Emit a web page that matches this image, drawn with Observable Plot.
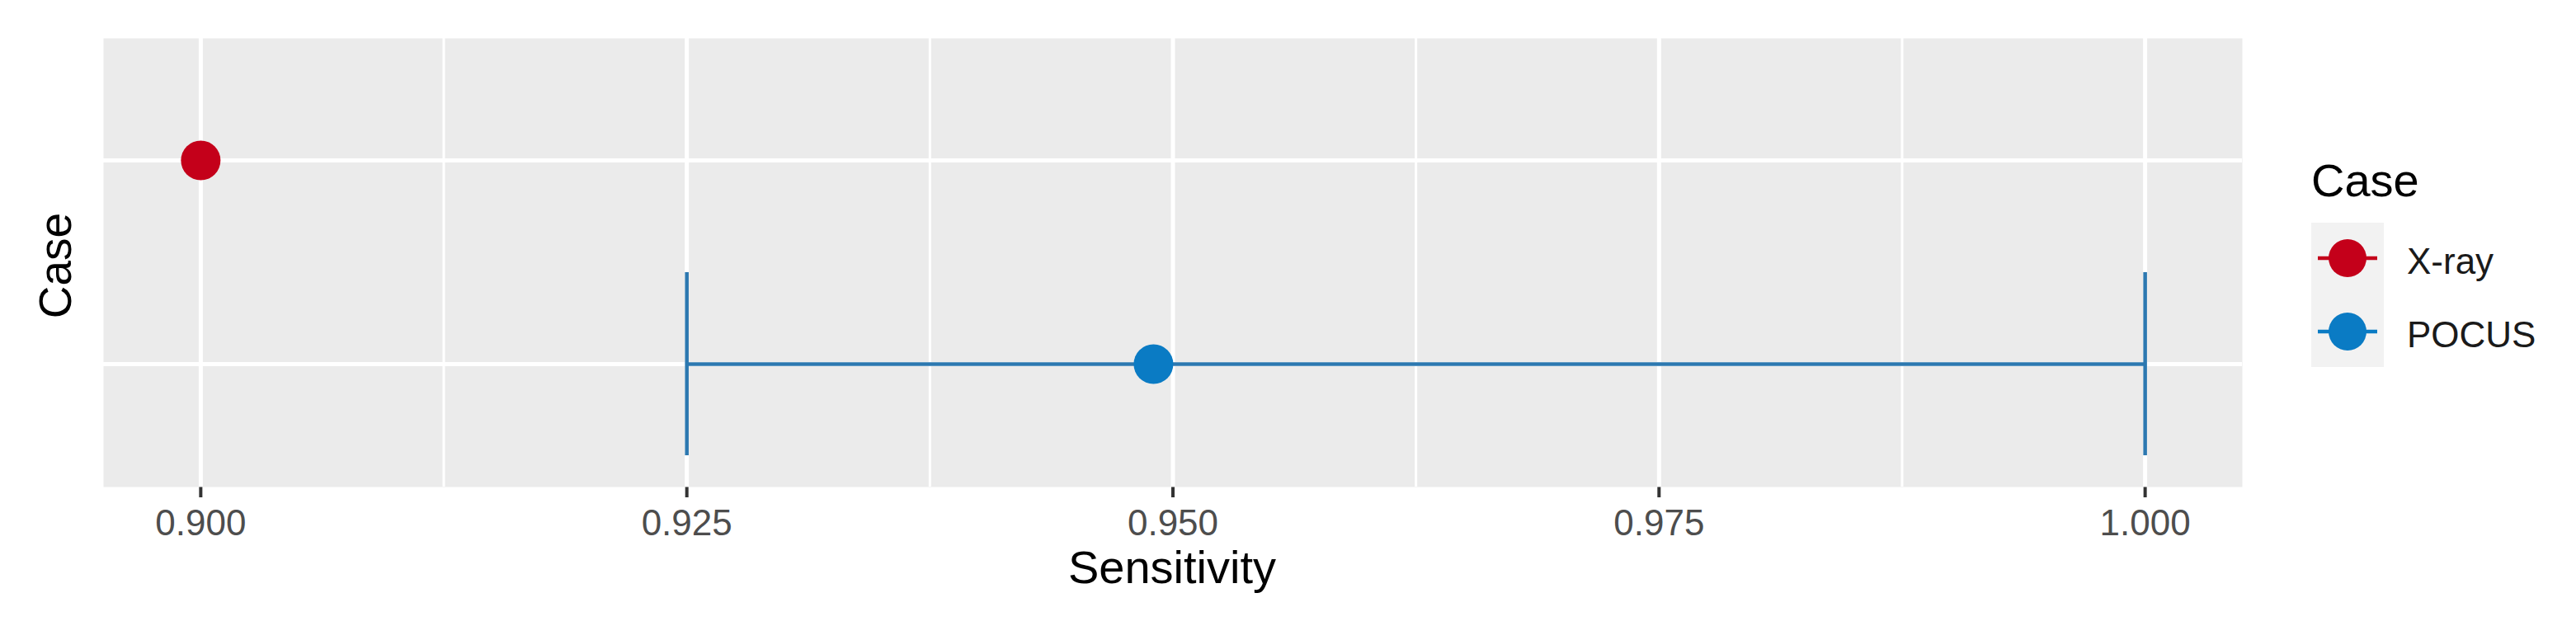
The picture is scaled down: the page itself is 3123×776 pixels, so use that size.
<!DOCTYPE html>
<html>
<head>
<meta charset="utf-8">
<script src="https://cdn.jsdelivr.net/npm/d3@7"></script>
<script src="https://cdn.jsdelivr.net/npm/@observablehq/plot@0.6"></script>
<style>
  html, body { margin: 0; padding: 0; background: white; }
  #wrap { position: relative; width: 3123px; height: 776px; font-family: "Liberation Sans", Arial, sans-serif; }
  .title { position: absolute; color: #000; white-space: nowrap; line-height: 1; }
</style>
</head>
<body>
<div id="wrap"></div>
<script>
// ---- data ----
const cases = ["X-ray", "POCUS"];
const sensitivity = [0.900, 0.949];
const ciLower = [null, 0.925];
const ciUpper = [null, 1.000];
const caseColors = ["#C4001A", "#0A7BC4"];
const barColor = "#2C78B0";
const majorTicks = [0.900, 0.925, 0.950, 0.975, 1.000];
const minorTicks = [0.9125, 0.9375, 0.9625, 0.9875];
const xTitle = "Sensitivity";
const yTitle = "Case";
const legendTitle = "Case";

const rows = cases.map((c, i) => ({case: c, value: sensitivity[i], lo: ciLower[i], hi: ciUpper[i]}));
const ciRows = rows.filter(d => d.lo != null && d.hi != null);

const wrap = document.getElementById("wrap");

const chart = Plot.plot({
  width: 3123,
  height: 776,
  marginLeft: 125,
  marginRight: 405,
  marginTop: 46,
  marginBottom: 186,
  style: {fontFamily: "'Liberation Sans', Arial, sans-serif", fontSize: "44px", color: "#4D4D4D", background: "white", overflow: "visible"},
  x: {domain: [0.895, 1.005], ticks: majorTicks, tickFormat: d3.format(".3f"), tickSize: 13, tickPadding: 14, label: null},
  y: {type: "band", domain: cases, paddingInner: 0.1, paddingOuter: 0.15, axis: null},
  color: {domain: cases, range: caseColors},
  marks: [
    Plot.frame({fill: "#EBEBEB", stroke: "none"}),
    Plot.ruleX(minorTicks, {stroke: "white", strokeWidth: 3}),
    Plot.ruleX(majorTicks, {stroke: "white", strokeWidth: 5}),
    Plot.ruleY(cases, {stroke: "white", strokeWidth: 5}),
    Plot.ruleY(ciRows, {y: "case", x1: "lo", x2: "hi", stroke: barColor, strokeWidth: 4.5}),
    Plot.tickX(ciRows, {x: "lo", y: "case", stroke: barColor, strokeWidth: 4.5}),
    Plot.tickX(ciRows, {x: "hi", y: "case", stroke: barColor, strokeWidth: 4.5}),
    Plot.dot(rows, {x: "value", y: "case", fill: "case", r: 24})
  ]
});
wrap.appendChild(chart);

// style axis ticks like ggplot
d3.select(chart).selectAll('g[aria-label^="x-axis"] line, g[aria-label="x-axis tick"] path')
  .attr("stroke", "#333333").attr("stroke-width", 4);
d3.select(chart).selectAll('g[aria-label^="x-axis"] text').attr("fill", "#4D4D4D");

// axis titles
const xt = document.createElement("div");
xt.className = "title";
xt.textContent = xTitle;
xt.style.cssText += "font-size:56px; left:1421px; top:660px; transform:translateX(-50%);";
wrap.appendChild(xt);

const yt = document.createElement("div");
yt.className = "title";
yt.textContent = yTitle;
yt.style.cssText += "font-size:55px; left:67px; top:322px; transform:translate(-50%,-50%) rotate(-90deg);";
wrap.appendChild(yt);

// legend
const leg = d3.select(wrap).append("svg")
  .attr("width", 321).attr("height", 300)
  .style("position", "absolute").style("left", "2802px").style("top", "180px")
  .style("font-family", "'Liberation Sans', Arial, sans-serif");
leg.append("text").attr("x", 0).attr("y", 58).attr("font-size", 56).attr("fill", "#000").text(legendTitle);
leg.append("rect").attr("x", 0).attr("y", 90).attr("width", 88).attr("height", 175).attr("fill", "#F2F2F2");
cases.forEach((c, i) => {
  const cy = 133 + i * 89;
  leg.append("line").attr("x1", 8).attr("x2", 80).attr("y1", cy).attr("y2", cy)
    .attr("stroke", caseColors[i]).attr("stroke-width", 4.5);
  leg.append("circle").attr("cx", 44).attr("cy", cy).attr("r", 23).attr("fill", caseColors[i]);
  leg.append("text").attr("x", 116).attr("y", cy + 19).attr("font-size", 44).attr("fill", "#1A1A1A").text(c);
});
</script>
</body>
</html>
